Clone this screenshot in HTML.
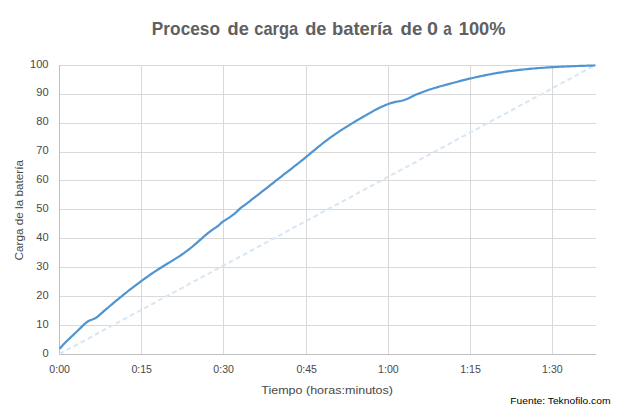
<!DOCTYPE html>
<html><head><meta charset="utf-8">
<style>
html,body{margin:0;padding:0;background:#fff;}
body{width:629px;height:419px;overflow:hidden;position:relative;font-family:"Liberation Sans",sans-serif;}
svg{position:absolute;left:0;top:0;}

</style></head><body>
<svg width="629" height="419" viewBox="0 0 629 419">
<g fill="none" stroke="#d9d9d9" stroke-width="1" shape-rendering="crispEdges">
<path d="M60 65.5H596"/>
<path d="M60 94.5H596"/>
<path d="M60 123.5H596"/>
<path d="M60 152.5H596"/>
<path d="M60 180.5H596"/>
<path d="M60 209.5H596"/>
<path d="M60 238.5H596"/>
<path d="M60 267.5H596"/>
<path d="M60 296.5H596"/>
<path d="M60 325.5H596"/>
<path d="M141.5 65V354"/>
<path d="M223.5 65V354"/>
<path d="M306.5 65V354"/>
<path d="M388.5 65V354"/>
<path d="M470.5 65V354"/>
<path d="M552.5 65V354"/>
</g>
<g fill="none" stroke="#bfbfbf" stroke-width="1" shape-rendering="crispEdges">
<path d="M59.5 65V355"/>
<path d="M59 354.5H596"/>
</g>
<path d="M59.5 354L595.5 65" fill="none" stroke="#d8e6f4" stroke-width="2" stroke-dasharray="4.8 3.216"/>
<path d="M59.60 348.73 L61.60 346.47 L63.60 344.33 L65.60 342.27 L67.60 340.28 L69.60 338.35 L71.60 336.46 L73.60 334.58 L75.60 332.70 L77.60 330.81 L79.60 328.87 L81.60 326.89 L83.60 324.92 L85.60 323.09 L87.60 321.55 L89.60 320.43 L91.60 319.72 L93.60 319.07 L95.60 318.11 L97.60 316.67 L99.60 314.96 L101.60 313.20 L103.60 311.44 L105.60 309.70 L107.60 307.97 L109.60 306.26 L111.60 304.57 L113.60 302.88 L115.60 301.21 L117.60 299.56 L119.60 297.92 L121.60 296.30 L123.60 294.69 L125.60 293.09 L127.60 291.51 L129.60 289.95 L131.60 288.40 L133.60 286.86 L135.60 285.35 L137.60 283.84 L139.60 282.35 L141.60 280.88 L143.60 279.43 L145.60 277.99 L147.60 276.56 L149.60 275.16 L151.60 273.78 L153.60 272.42 L155.60 271.08 L157.60 269.77 L159.60 268.48 L161.60 267.22 L163.60 265.98 L165.60 264.76 L167.60 263.56 L169.60 262.35 L171.60 261.14 L173.60 259.92 L175.60 258.67 L177.60 257.39 L179.60 256.08 L181.60 254.72 L183.60 253.32 L185.60 251.88 L187.60 250.39 L189.60 248.85 L191.60 247.26 L193.60 245.62 L195.60 243.91 L197.60 242.16 L199.60 240.37 L201.60 238.58 L203.60 236.80 L205.60 235.06 L207.60 233.38 L209.60 231.79 L211.60 230.31 L213.60 228.95 L215.60 227.66 L217.60 226.26 L219.60 224.56 L221.60 222.63 L223.60 221.08 L225.60 219.87 L227.60 218.66 L229.60 217.35 L231.60 215.94 L233.60 214.45 L235.60 212.81 L237.60 210.85 L239.60 208.87 L241.60 207.23 L243.60 205.77 L245.60 204.28 L247.60 202.78 L249.60 201.27 L251.60 199.74 L253.60 198.20 L255.60 196.66 L257.60 195.10 L259.60 193.55 L261.60 191.98 L263.60 190.42 L265.60 188.85 L267.60 187.28 L269.60 185.70 L271.60 184.13 L273.60 182.56 L275.60 180.98 L277.60 179.41 L279.60 177.84 L281.60 176.28 L283.60 174.72 L285.60 173.16 L287.60 171.61 L289.60 170.06 L291.60 168.51 L293.60 166.96 L295.60 165.40 L297.60 163.83 L299.60 162.25 L301.60 160.66 L303.60 159.04 L305.60 157.41 L307.60 155.76 L309.60 154.10 L311.60 152.44 L313.60 150.78 L315.60 149.12 L317.60 147.47 L319.60 145.85 L321.60 144.24 L323.60 142.67 L325.60 141.13 L327.60 139.63 L329.60 138.15 L331.60 136.71 L333.60 135.29 L335.60 133.90 L337.60 132.54 L339.60 131.20 L341.60 129.89 L343.60 128.59 L345.60 127.32 L347.60 126.06 L349.60 124.83 L351.60 123.60 L353.60 122.40 L355.60 121.20 L357.60 120.02 L359.60 118.84 L361.60 117.68 L363.60 116.52 L365.60 115.36 L367.60 114.22 L369.60 113.10 L371.60 111.99 L373.60 110.90 L375.60 109.84 L377.60 108.81 L379.60 107.82 L381.60 106.86 L383.60 105.94 L385.60 105.07 L387.60 104.27 L389.60 103.53 L391.60 102.88 L393.60 102.32 L395.60 101.86 L397.60 101.48 L399.60 101.12 L401.60 100.71 L403.60 100.19 L405.60 99.50 L407.60 98.64 L409.60 97.69 L411.60 96.71 L413.60 95.77 L415.60 94.87 L417.60 94.01 L419.60 93.19 L421.60 92.41 L423.60 91.66 L425.60 90.94 L427.60 90.24 L429.60 89.58 L431.60 88.94 L433.60 88.32 L435.60 87.71 L437.60 87.13 L439.60 86.56 L441.60 85.99 L443.60 85.44 L445.60 84.90 L447.60 84.36 L449.60 83.82 L451.60 83.28 L453.60 82.75 L455.60 82.22 L457.60 81.70 L459.60 81.18 L461.60 80.67 L463.60 80.17 L465.60 79.67 L467.60 79.18 L469.60 78.69 L471.60 78.22 L473.60 77.75 L475.60 77.29 L477.60 76.84 L479.60 76.40 L481.60 75.97 L483.60 75.56 L485.60 75.15 L487.60 74.76 L489.60 74.37 L491.60 74.00 L493.60 73.64 L495.60 73.29 L497.60 72.96 L499.60 72.63 L501.60 72.31 L503.60 72.01 L505.60 71.71 L507.60 71.43 L509.60 71.15 L511.60 70.88 L513.60 70.62 L515.60 70.38 L517.60 70.14 L519.60 69.91 L521.60 69.68 L523.60 69.47 L525.60 69.26 L527.60 69.06 L529.60 68.87 L531.60 68.69 L533.60 68.51 L535.60 68.34 L537.60 68.18 L539.60 68.02 L541.60 67.87 L543.60 67.73 L545.60 67.59 L547.60 67.46 L549.60 67.33 L551.60 67.21 L553.60 67.09 L555.60 66.98 L557.60 66.87 L559.60 66.77 L561.60 66.67 L563.60 66.58 L565.60 66.49 L567.60 66.40 L569.60 66.31 L571.60 66.23 L573.60 66.15 L575.60 66.08 L577.60 66.01 L579.60 65.94 L581.60 65.87 L583.60 65.80 L585.60 65.73 L587.60 65.67 L589.60 65.61 L591.60 65.55 L593.60 65.49 L595.30 65.44" fill="none" stroke="#5094d2" stroke-width="2.2" stroke-linecap="butt" stroke-linejoin="round"/>
<g font-family="Liberation Sans">
<text transform="translate(151.84 34.80) scale(0.9358 1)" font-size="18.48" font-weight="bold" fill="#606060">Proceso</text>
<text transform="translate(227.52 34.80) scale(0.9880 1)" font-size="18.48" font-weight="bold" fill="#606060">de</text>
<text transform="translate(254.29 34.80) scale(0.8910 1)" font-size="18.48" font-weight="bold" fill="#606060">carga</text>
<text transform="translate(305.22 34.80) scale(0.9880 1)" font-size="18.48" font-weight="bold" fill="#606060">de</text>
<text transform="translate(331.96 34.80) scale(0.9964 1)" font-size="18.48" font-weight="bold" fill="#606060">batería</text>
<text transform="translate(400.51 34.80) scale(1.0079 1)" font-size="18.48" font-weight="bold" fill="#606060">de</text>
<text transform="translate(427.06 34.80) scale(1.0708 1)" font-size="18.48" font-weight="bold" fill="#606060">0</text>
<text transform="translate(443.19 34.80) scale(0.8271 1)" font-size="18.48" font-weight="bold" fill="#606060">a</text>
<text transform="translate(458.75 34.80) scale(0.9903 1)" font-size="18.48" font-weight="bold" fill="#606060">100%</text>
<text transform="translate(30.06 67.54) scale(1.0367 1)" font-size="10.70" font-weight="normal" fill="#484848">100</text>
<text transform="translate(36.28 96.44) scale(1.0367 1)" font-size="10.70" font-weight="normal" fill="#484848">90</text>
<text transform="translate(36.28 125.34) scale(1.0367 1)" font-size="10.70" font-weight="normal" fill="#484848">80</text>
<text transform="translate(36.28 154.24) scale(1.0367 1)" font-size="10.70" font-weight="normal" fill="#484848">70</text>
<text transform="translate(36.28 183.14) scale(1.0367 1)" font-size="10.70" font-weight="normal" fill="#484848">60</text>
<text transform="translate(36.28 212.04) scale(1.0367 1)" font-size="10.70" font-weight="normal" fill="#484848">50</text>
<text transform="translate(36.28 240.94) scale(1.0367 1)" font-size="10.70" font-weight="normal" fill="#484848">40</text>
<text transform="translate(36.28 269.84) scale(1.0367 1)" font-size="10.70" font-weight="normal" fill="#484848">30</text>
<text transform="translate(36.28 298.74) scale(1.0367 1)" font-size="10.70" font-weight="normal" fill="#484848">20</text>
<text transform="translate(36.28 327.64) scale(1.0367 1)" font-size="10.70" font-weight="normal" fill="#484848">10</text>
<text transform="translate(42.38 356.54) scale(1.0367 1)" font-size="10.70" font-weight="normal" fill="#484848">0</text>
<text transform="translate(49.33 372.64) scale(0.9763 1)" font-size="10.85" font-weight="normal" fill="#484848">0:00</text>
<text transform="translate(131.38 372.64) scale(0.9763 1)" font-size="10.85" font-weight="normal" fill="#484848">0:15</text>
<text transform="translate(213.33 372.64) scale(0.9763 1)" font-size="10.85" font-weight="normal" fill="#484848">0:30</text>
<text transform="translate(296.38 372.64) scale(0.9763 1)" font-size="10.85" font-weight="normal" fill="#484848">0:45</text>
<text transform="translate(378.11 372.64) scale(0.9763 1)" font-size="10.85" font-weight="normal" fill="#484848">1:00</text>
<text transform="translate(460.17 372.64) scale(0.9763 1)" font-size="10.85" font-weight="normal" fill="#484848">1:15</text>
<text transform="translate(542.11 372.64) scale(0.9763 1)" font-size="10.85" font-weight="normal" fill="#484848">1:30</text>
<text transform="translate(261.20 393.90) scale(1.1163 1)" font-size="11.23" font-weight="normal" fill="#484848">Tiempo (horas:minutos)</text>
<text transform="translate(23.30 260.44) rotate(-90) scale(1.0742 1)" font-size="10.93" font-weight="normal" fill="#484848">Carga de la batería</text>
<text transform="translate(510.33 403.90) scale(1.0819 1)" font-size="9.49" font-weight="normal" fill="#000000">Fuente: Teknofilo.com</text>
</g>
</svg>
</body></html>
